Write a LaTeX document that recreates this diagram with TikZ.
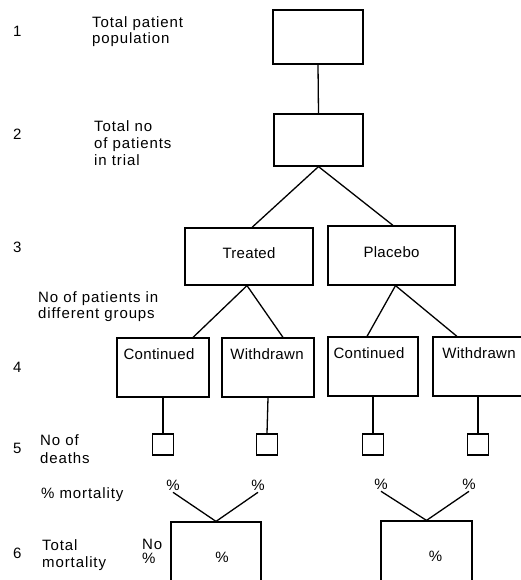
\documentclass[tikz,border=0pt]{standalone}
\usepackage{fontspec}
\setmainfont[LetterSpace=2]{Liberation Sans}
\newfontfamily\lblfont[LetterSpace=6]{Liberation Sans}
\begin{document}
\begin{tikzpicture}[x=1pt,y=-1pt,
  font=\fontsize{15}{17}\selectfont,
  box/.style={draw, line width=1.2pt, inner sep=0pt},
  sq/.style={draw, line width=1.2pt, inner sep=0pt, minimum width=21pt, minimum height=21pt},
  conn/.style={draw, line width=1.3pt},
  lbl/.style={inner sep=0pt, align=left, anchor=north west, font=\fontsize{15}{17}\lblfont},
  num/.style={inner sep=0pt, anchor=base west},
  lblone/.style={inner sep=0pt, anchor=base west, font=\fontsize{15}{17}\lblfont},
  txt/.style={inner sep=0pt, anchor=base},
  pct/.style={inner sep=2pt, anchor=base}]
\useasboundingbox (0,0) rectangle (520,580);
% left labels
\node[num] (n1) at (13,37) {1};
\node[num] (n2) at (13,140) {2};
\node[num] (n3) at (13,252) {3};
\node[num] (n4) at (13,372) {4};
\node[num] (n5) at (13,453) {5};
\node[num] (n6) at (13,558) {6};
\node[lbl] (l1) at (92,16) {Total patient\\[-1pt]population};
\node[lbl] (l2) at (94,120) {Total no\\of patients\\in trial};
\node[lbl] (l3) at (38,291) {No of patients in\\[-1pt]different groups};
\node[lbl] (l5) at (40,434) {No of\\[1pt]deaths};
\node[lblone] (l5b) at (41,498) {\% mortality};
\node[lbl] (l6) at (42,539) {Total\\mortality};
\node[lbl] (l6b) at (142,539) {No\\[-3pt]\%};
% boxes
\node[box, minimum width=90pt, minimum height=54pt] (b1) at (318,37) {};
\node[box, minimum width=89pt, minimum height=52pt] (b2) at (318.5,140) {};
\node[box, minimum width=128pt, minimum height=57pt] (tr) at (249,256.5) {};
\node[box, minimum width=127pt, minimum height=59pt] (pl) at (391.5,255.5) {};
\node[txt] (trt) at (249,258) {Treated};
\node[txt] (plt) at (391.5,257) {Placebo};
\node[box, minimum width=92pt, minimum height=59pt] (c1) at (163,367.5) {};
\node[box, minimum width=92pt, minimum height=59pt] (w1) at (268,367.5) {};
\node[box, minimum width=90pt, minimum height=59pt] (c2) at (373,366.5) {};
\node[box, minimum width=90pt, minimum height=59pt] (w2) at (478,366.5) {};
\node[txt] (c1t) at (159,359) {Continued};
\node[txt] (w1t) at (267,359) {Withdrawn};
\node[txt] (c2t) at (369,358) {Continued};
\node[txt] (w2t) at (479,358) {Withdrawn};
\node[sq] (s1) at (163,444.5) {};
\node[sq] (s2) at (267,444.5) {};
\node[sq] (s3) at (373,444.5) {};
\node[sq] (s4) at (478,444.5) {};
% mortality
\node[pct] (p1) at (173,490) {\%};
\node[pct] (p2) at (258,490) {\%};
\node[pct] (p3) at (381,489) {\%};
\node[pct] (p4) at (469,489) {\%};
\node[box, minimum width=90pt, minimum height=70pt] (m1) at (216,557) {\kern12pt\%};
\node[box, minimum width=91pt, minimum height=70pt] (m2) at (426.5,556) {\kern18pt\%};
% connectors
\path[conn] (b1.south) -- (b2.north);
\path[conn] (b2.south) -- ([xshift=3pt]tr.north);
\path[conn] (b2.south) -- ([xshift=1.5pt]pl.north);
\path[conn] ([xshift=-2pt]tr.south) -- ([xshift=30pt]c1.north);
\path[conn] ([xshift=-2pt]tr.south) -- ([xshift=15pt]w1.north);
\path[conn] ([xshift=4pt]pl.south) -- ([xshift=-6pt]c2.north);
\path[conn] ([xshift=4pt]pl.south) -- ([xshift=-21pt]w2.north);
\path[conn] (c1.south) -- (s1.north);
\path[conn] (w1.south) -- (s2.north);
\path[conn] (c2.south) -- (s3.north);
\path[conn] (w2.south) -- (s4.north);
\path[conn] (p1.south) -- (m1.north);
\path[conn] (p2.south) -- (m1.north);
\path[conn] (p3.south) -- (m2.north);
\path[conn] (p4.south) -- (m2.north);
\end{tikzpicture}
\end{document}
